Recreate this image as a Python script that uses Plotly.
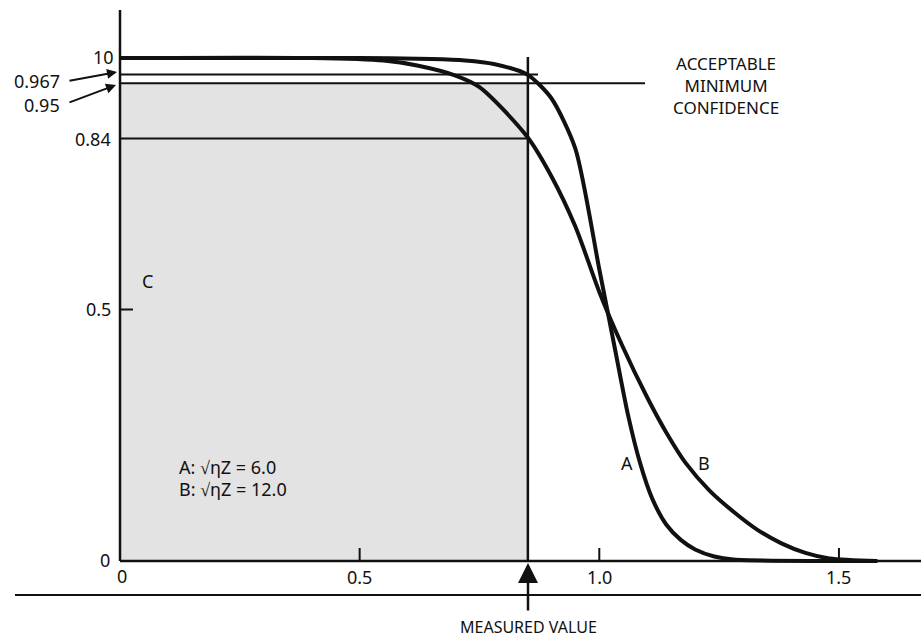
import plotly.graph_objects as go

# ---- data ----
x_a = [0.0, 0.5, 0.65, 0.72, 0.78, 0.85, 0.9, 0.95, 1.0, 1.033, 1.06, 1.085, 1.11, 1.14, 1.17, 1.2, 1.24, 1.28, 1.58]
c_a = [1.0, 1.0, 0.998, 0.995, 0.988, 0.967, 0.92, 0.82, 0.58, 0.42, 0.29, 0.195, 0.125, 0.072, 0.042, 0.023, 0.009, 0.003, 0.0]
x_b = [0.0, 0.4, 0.55, 0.62, 0.7, 0.75, 0.85, 0.9, 0.95, 1.0, 1.047, 1.1, 1.14, 1.18, 1.23, 1.28, 1.33, 1.38, 1.43, 1.48, 1.58]
c_b = [1.0, 1.0, 0.995, 0.985, 0.965, 0.942, 0.843, 0.765, 0.665, 0.535, 0.43, 0.325, 0.255, 0.195, 0.14, 0.098, 0.062, 0.035, 0.016, 0.005, 0.0]
measured_value = 0.851
ref_levels = [0.967, 0.95, 0.84]
x_ticks = [0.5, 1.0, 1.5]
x_tick_labels = ["0", "0.5", "1.0", "1.5"]
y_tick_labels = ["0", "0.5", "0.84", "10"]

W, H = 921, 639
FONT = "Noto Sans"
INK = "#111111"

# axis mapping (px per unit)
X0PX, XPPU = 120, 479.3
Y0PX, YPPU = 561, 503
xr = [(0 - X0PX) / XPPU, (W - X0PX) / XPPU]
yr = [(Y0PX - H) / YPPU, Y0PX / YPPU]


def px(x):
    return x / W


def py(y):
    return 1 - y / H


fig = go.Figure()

# shaded region (0..measured, 0..0.95)
fig.add_shape(type="rect", x0=0, x1=measured_value, y0=0, y1=ref_levels[1],
              xref="x", yref="y", fillcolor="#e3e3e3", line_width=0, layer="below")

fig.add_trace(go.Scatter(x=x_a, y=c_a, mode="lines", line=dict(color=INK, width=4, shape="spline", smoothing=0.7),
                         hoverinfo="skip", showlegend=False))
fig.add_trace(go.Scatter(x=x_b, y=c_b, mode="lines", line=dict(color=INK, width=4, shape="spline", smoothing=0.8),
                         hoverinfo="skip", showlegend=False))

lines = []
# axes
lines.append(dict(x0=0, x1=0, y0=0, y1=(Y0PX - 10) / YPPU, w=2.5))
lines.append(dict(x0=0, x1=xr[1], y0=0, y1=0, w=2.5))
lines.append(dict(x0=(15 - X0PX) / XPPU, x1=xr[1], y0=(Y0PX - 595) / YPPU, y1=(Y0PX - 595) / YPPU, w=2))
# ticks
for t in x_ticks:
    lines.append(dict(x0=t, x1=t, y0=0, y1=13 / YPPU, w=2))
lines.append(dict(x0=0, x1=13 / XPPU, y0=0.5, y1=0.5, w=2))
# reference lines
lines.append(dict(x0=0, x1=(538 - X0PX) / XPPU, y0=ref_levels[0], y1=ref_levels[0], w=2))
lines.append(dict(x0=0, x1=(645 - X0PX) / XPPU, y0=ref_levels[1], y1=ref_levels[1], w=2))
lines.append(dict(x0=0, x1=measured_value, y0=ref_levels[2], y1=ref_levels[2], w=2))
# measured value vertical
lines.append(dict(x0=measured_value, x1=measured_value, y0=0, y1=1.002, w=2.5))
for l in lines:
    fig.add_shape(type="line", x0=l["x0"], x1=l["x1"], y0=l["y0"], y1=l["y1"],
                  xref="x", yref="y", line=dict(color=INK, width=l["w"]))

ann = []


def text(s, x, y, size=18, xanchor="center", yanchor="middle", align="center"):
    ann.append(dict(text=s, x=px(x), y=py(y), xref="paper", yref="paper", showarrow=False,
                    xanchor=xanchor, yanchor=yanchor, align=align,
                    font=dict(family=FONT, size=size, color=INK)))


def arrow(tx, ty, hx, hy, width=2, size=1.0, head=2):
    ann.append(dict(text="", x=px(hx), y=py(hy), xref="paper", yref="paper", showarrow=True,
                    ax=tx - hx, ay=ty - hy, axref="pixel", ayref="pixel",
                    arrowhead=head, arrowsize=size, arrowwidth=width, arrowcolor=INK))


# x tick labels
text(x_tick_labels[0], 122, 576)
for lab, t in zip(x_tick_labels[1:], x_ticks):
    text(lab, X0PX + t * XPPU, 577)
# y tick labels
text(y_tick_labels[0], 112, 560, xanchor="right")
text(y_tick_labels[1], 113, 309, xanchor="right")
text(y_tick_labels[2], 113, 139, xanchor="right")
text(y_tick_labels[3], 116, 57, xanchor="right")
# arrowed labels
text("0.967", 12, 81, xanchor="left")
text("0.95", 22, 105, xanchor="left")
arrow(68, 81, 117, 72)
arrow(68, 103, 116, 85)
# axis label
text("C", 147, 281, size=18)
# curve labels
text("A", 627, 463)
text("B", 704, 463)
# legend text
text("A: \u221a\u03b7Z = 6.0", 177, 467, xanchor="left")
text("B: \u221a\u03b7Z = 12.0", 177, 489, xanchor="left")
# right text
text("ACCEPTABLE<br>MINIMUM<br>CONFIDENCE", 726, 85, size=17)
# measured value
text("MEASURED VALUE", 528, 627, size=16)
arrow(528, 612, 528, 563, width=2.5, size=1.6, head=2)

fig.update_layout(
    width=W, height=H, margin=dict(l=0, r=0, t=0, b=0),
    paper_bgcolor="white", plot_bgcolor="white",
    xaxis=dict(range=xr, visible=False, fixedrange=True),
    yaxis=dict(range=yr, visible=False, fixedrange=True),
    annotations=ann, showlegend=False,
)

fig.write_html("out.html", config={"displayModeBar": False, "staticPlot": True},
               post_script="document.body.style.margin='0';document.body.style.padding='0';"
                           "document.body.style.overflow='hidden';")
